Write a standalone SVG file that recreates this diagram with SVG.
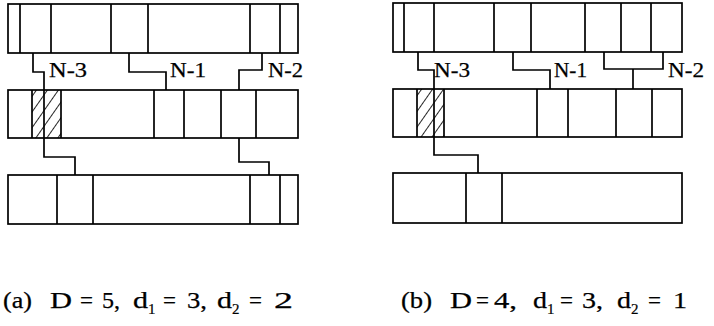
<svg xmlns="http://www.w3.org/2000/svg" width="714" height="326" viewBox="0 0 714 326">
<style>
.box{fill:none;stroke:#000;stroke-width:1.7}
.div{stroke:#000;stroke-width:1.7}
.wire{fill:none;stroke:#000;stroke-width:1.7}
.lbl{font-family:"Liberation Serif","Times New Roman",serif;font-size:21px;fill:#000;stroke:#000;stroke-width:0.25}
.cap{font-family:"Liberation Serif","Times New Roman",serif;font-size:23px;fill:#000;stroke:#000;stroke-width:0.25}
.sub{font-family:"Liberation Serif","Times New Roman",serif;font-size:15px;fill:#000;stroke:#000;stroke-width:0.2}
</style>
<defs>
<pattern id="hatch" width="9" height="9" patternUnits="userSpaceOnUse" patternTransform="rotate(35)">
<line x1="0" y1="0" x2="0" y2="9" stroke="#000" stroke-width="1.7"/>
</pattern>
</defs>
<rect width="714" height="326" fill="#fff"/>

<!-- Panel (a) -->
<g id="a-top">
<rect class="box" x="8" y="4" width="290" height="49"/>
<path class="div" d="M20 4V53M51 4V53M111 4V53M148 4V53M250 4V53M280 4V53"/>
</g>
<g id="a-mid">
<rect x="32" y="90" width="29" height="48" fill="url(#hatch)"/>
<rect class="box" x="8" y="90" width="290" height="48"/>
<path class="div" d="M32 90V138M61 90V138M154 90V138M184 90V138M221 90V138M256 90V138"/>
</g>
<g id="a-bot">
<rect class="box" x="8" y="175" width="290" height="49"/>
<path class="div" d="M57 175V224M93 175V224M250 175V224M280 175V224"/>
</g>

<!-- Panel (b) -->
<g id="b-top">
<rect class="box" x="393" y="3" width="289" height="49"/>
<path class="div" d="M404 3V52M434 3V52M494 3V52M531 3V52M585 3V52M621 3V52M651 3V52"/>
</g>
<g id="b-mid">
<rect x="417" y="89" width="27" height="48" fill="url(#hatch)"/>
<rect class="box" x="393" y="89" width="289" height="48"/>
<path class="div" d="M417 89V137M444 89V137M537 89V137M568 89V137M616 89V137M652 89V137"/>
</g>
<g id="b-bot">
<rect class="box" x="393" y="173" width="289" height="50"/>
<path class="div" d="M466 173V223M502 173V223"/>
</g>

<g id="connectors">
<path class="wire" d="M33 53V72H44V157H75V175"/>
<path class="wire" d="M129 53V72H166V90"/>
<path class="wire" d="M262 53V70H239V90"/>
<path class="wire" d="M239 138V162H269V175"/>
<path class="wire" d="M418 52V70H434V155H478V173"/>
<path class="wire" d="M513 52V70H550V89"/>
<path class="wire" d="M604 52V69H663V52"/>
<path class="wire" d="M633 69V89"/>
</g>

<g id="labels">
<text class="lbl" x="49" y="77" textLength="38" lengthAdjust="spacingAndGlyphs">N-3</text>
<text class="lbl" x="170" y="77" textLength="36" lengthAdjust="spacingAndGlyphs">N-1</text>
<text class="lbl" x="268" y="77" textLength="35" lengthAdjust="spacingAndGlyphs">N-2</text>
<text class="lbl" x="434" y="77" textLength="36" lengthAdjust="spacingAndGlyphs">N-3</text>
<text class="lbl" x="554" y="77" textLength="33" lengthAdjust="spacingAndGlyphs">N-1</text>
<text class="lbl" x="668" y="77" textLength="36" lengthAdjust="spacingAndGlyphs">N-2</text>
</g>

<g id="caption-a">
<text class="cap" x="3" y="308" textLength="29" lengthAdjust="spacingAndGlyphs">(a)</text>
<text class="cap" x="50" y="308" textLength="22" lengthAdjust="spacingAndGlyphs">D</text>
<text class="cap" x="80" y="308">=</text>
<text class="cap" x="102" y="308" textLength="18" lengthAdjust="spacingAndGlyphs">5,</text>
<text class="cap" x="133" y="308" textLength="15" lengthAdjust="spacingAndGlyphs">d</text>
<text class="sub" x="148" y="314">1</text>
<text class="cap" x="163" y="308">=</text>
<text class="cap" x="187" y="308" textLength="20" lengthAdjust="spacingAndGlyphs">3,</text>
<text class="cap" x="217" y="308" textLength="15" lengthAdjust="spacingAndGlyphs">d</text>
<text class="sub" x="232" y="314">2</text>
<text class="cap" x="249" y="308">=</text>
<text class="cap" x="274" y="308" textLength="19" lengthAdjust="spacingAndGlyphs">2</text>
</g>
<g id="caption-b">
<text class="cap" x="401" y="308" textLength="31" lengthAdjust="spacingAndGlyphs">(b)</text>
<text class="cap" x="450" y="308" textLength="22" lengthAdjust="spacingAndGlyphs">D</text>
<text class="cap" x="476" y="308">=</text>
<text class="cap" x="494" y="308" textLength="23" lengthAdjust="spacingAndGlyphs">4,</text>
<text class="cap" x="533" y="308" textLength="14" lengthAdjust="spacingAndGlyphs">d</text>
<text class="sub" x="547" y="314">1</text>
<text class="cap" x="560" y="308">=</text>
<text class="cap" x="582" y="308" textLength="21" lengthAdjust="spacingAndGlyphs">3,</text>
<text class="cap" x="617" y="308" textLength="14" lengthAdjust="spacingAndGlyphs">d</text>
<text class="sub" x="631" y="314">2</text>
<text class="cap" x="648" y="308">=</text>
<text class="cap" x="673" y="308" textLength="14" lengthAdjust="spacingAndGlyphs">1</text>
</g>
</svg>
